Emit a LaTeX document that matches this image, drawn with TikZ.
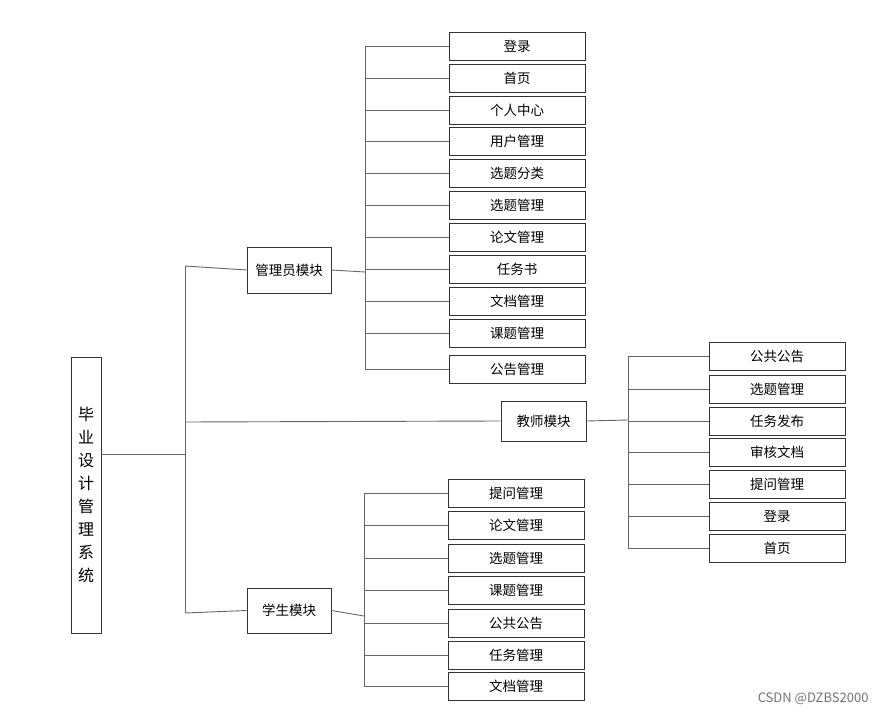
\documentclass[tikz,border=0pt]{standalone}
\usepackage{fontspec}
\setmainfont{Noto Sans CJK SC}

\begin{document}
\begin{tikzpicture}[x=1pt, y=-1pt,
		box/.style={draw=black!80, line width=0.8pt, minimum width=136pt, minimum height=28pt, inner sep=0pt, font=\fontsize{13.5}{15}\selectfont},
		module/.style={draw=black!80, line width=0.8pt, inner sep=0pt, font=\fontsize{13.5}{15}\selectfont},
		link/.style={draw=black!60, line width=0.9pt}]
	\useasboundingbox (0,0) rectangle (887,714);

	% Root
	\node[module, minimum width=30pt, minimum height=276pt, align=center, font=\fontsize{16}{23}\selectfont] (root) at (86,495) {毕\\业\\设\\计\\管\\理\\系\\统};

	% Modules
	\node[module, minimum width=84pt, minimum height=46pt] (admin) at (289,270) {管理员模块};
	\node[module, minimum width=85pt, minimum height=40pt] (teacher) at (543.5,421) {教师模块};
	\node[module, minimum width=84pt, minimum height=45pt] (student) at (289,610.5) {学生模块};

	% Admin items
	\foreach \i/\y/\t in {1/46/登录, 2/78/首页, 3/110/个人中心, 4/141.5/用户管理, 5/173/选题分类, 6/205/选题管理, 7/237.5/论文管理, 8/269/任务书, 9/301/文档管理, 10/333/课题管理, 11/369/公告管理}
		\node[box] (a\i) at (517,\y) {\t};

	% Teacher items
	\foreach \i/\y/\t in {1/356.5/公共公告, 2/389/选题管理, 3/421/任务发布, 4/452/审核文档, 5/484/提问管理, 6/516/登录, 7/548/首页}
		\node[box] (t\i) at (777,\y) {\t};

	% Student items
	\foreach \i/\y/\t in {1/493/提问管理, 2/525.5/论文管理, 3/558/选题管理, 4/590.5/课题管理, 5/623/公共公告, 6/655/任务管理, 7/686/文档管理}
		\node[box] (s\i) at (516,\y) {\t};

	% Trunk
	\coordinate (ta) at (185,266);
	\coordinate (tt) at (185,422);
	\coordinate (tr) at (185,454);
	\coordinate (ts) at (185,613);
	\draw[link] (ta) -- (ts);
	\draw[link] (root.east |- tr) -- (tr);
	\draw[link] (ta) -- (admin.west);
	\draw[link] (tt) -- (teacher.west);
	\draw[link] (ts) -- (student.west);

	% Brackets
	\coordinate (ab) at (365,272);
	\coordinate (tb) at (628,420);
	\coordinate (sb) at (364,616);
	\draw[link] (admin.east) -- (ab);
	\draw[link] (teacher.east) -- (tb);
	\draw[link] (student.east) -- (sb);
	\draw[link] (ab |- a1.west) -- (ab |- a11.west);
	\draw[link] (tb |- t1.west) -- (tb |- t7.west);
	\draw[link] (sb |- s1.west) -- (sb |- s7.west);
	\foreach \i in {1,...,11}
		\draw[link] (ab |- a\i.west) -- (a\i.west);
	\foreach \i in {1,...,7} {
		\draw[link] (tb |- t\i.west) -- (t\i.west);
		\draw[link] (sb |- s\i.west) -- (s\i.west);
	}

	% Watermark
	\node[text=black!55, font=\fontsize{13}{15}\selectfont, anchor=east] (mark) at (872,699) {CSDN @DZBS2000};
\end{tikzpicture}
\end{document}
